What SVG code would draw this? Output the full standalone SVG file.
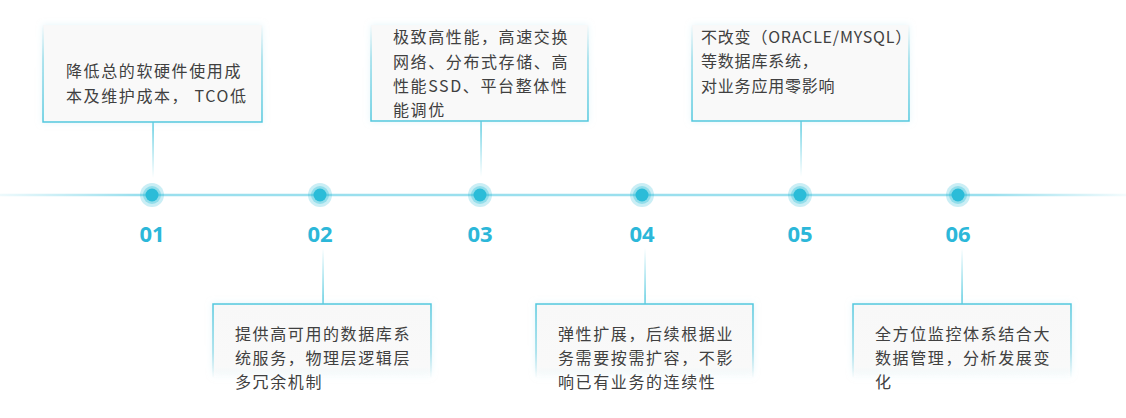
<svg xmlns="http://www.w3.org/2000/svg" width="1126" height="418" viewBox="0 0 1126 418">
  <defs>
    <linearGradient id="lineGrad" x1="0" y1="0" x2="1126" y2="0" gradientUnits="userSpaceOnUse">
      <stop offset="0" stop-color="#8fdcec" stop-opacity="0.15"/>
      <stop offset="0.12" stop-color="#8fdcec" stop-opacity="0.9"/>
      <stop offset="0.88" stop-color="#8fdcec" stop-opacity="0.9"/>
      <stop offset="1" stop-color="#8fdcec" stop-opacity="0.1"/>
    </linearGradient>
    <linearGradient id="strokeUp" x1="0" y1="0" x2="0" y2="1">
      <stop offset="0" stop-color="#4fc8de" stop-opacity="0"/>
      <stop offset="0.35" stop-color="#4fc8de" stop-opacity="0.6"/>
      <stop offset="1" stop-color="#4fc8de" stop-opacity="1"/>
    </linearGradient>
    <linearGradient id="strokeDown" x1="0" y1="0" x2="0" y2="1">
      <stop offset="0" stop-color="#4fc8de" stop-opacity="1"/>
      <stop offset="0.65" stop-color="#4fc8de" stop-opacity="0.6"/>
      <stop offset="1" stop-color="#4fc8de" stop-opacity="0"/>
    </linearGradient>
    <linearGradient id="fillDown" x1="0" y1="0" x2="0" y2="1">
      <stop offset="0" stop-color="#f8f8f8"/>
      <stop offset="0.85" stop-color="#f9f9f9"/>
      <stop offset="1" stop-color="#f9f9f9" stop-opacity="0"/>
    </linearGradient>
    <linearGradient id="connTop" x1="0" y1="0" x2="0" y2="1">
      <stop offset="0" stop-color="#4fc8de" stop-opacity="1"/>
      <stop offset="1" stop-color="#4fc8de" stop-opacity="0"/>
    </linearGradient>
    <linearGradient id="connBot" x1="0" y1="0" x2="0" y2="1">
      <stop offset="0" stop-color="#4fc8de" stop-opacity="0"/>
      <stop offset="1" stop-color="#4fc8de" stop-opacity="1"/>
    </linearGradient>
    <filter id="glow" x="-10%" y="-20%" width="120%" height="140%">
      <feDropShadow dx="0" dy="0" stdDeviation="3" flood-color="#c8ecf4" flood-opacity="0.5"/>
    </filter>
  </defs>
  <style>
    .txt { font-family: "Noto Sans CJK SC", "Noto Sans", sans-serif; font-size: 16px; fill: #404040; letter-spacing: 1.6px; }
    .num { font-family: "Noto Sans", "Open Sans", sans-serif; font-size: 22px; font-weight: bold; fill: #2cb7d9; text-anchor: middle; }
    .halo1 { fill: #2bbcd8; opacity: 0.25; }
    .halo2 { fill: #2bbcd8; opacity: 0.35; }
    .dot { fill: #2bbcd8; }
    .boxTop { fill: #f9f9f9; stroke: url(#strokeUp); stroke-width: 1.5; filter: url(#glow); }
    .boxBot { fill: url(#fillDown); stroke: url(#strokeDown); stroke-width: 1.5; filter: url(#glow); }
  </style>
  <rect width="1126" height="418" fill="#ffffff"/>

  <g id="timeline">
    <line x1="0" y1="195" x2="1126" y2="195" stroke="url(#lineGrad)" stroke-width="2.5"/>
  </g>

  <g id="connectors">
    <rect x="152.3" y="122" width="1.5" height="56" fill="url(#connTop)"/>
    <rect x="480.3" y="121" width="1.5" height="56" fill="url(#connTop)"/>
    <rect x="800.3" y="121" width="1.5" height="56" fill="url(#connTop)"/>
    <rect x="322.3" y="248" width="1.5" height="56" fill="url(#connBot)"/>
    <rect x="644.3" y="248" width="1.5" height="56" fill="url(#connBot)"/>
    <rect x="961.3" y="248" width="1.5" height="56" fill="url(#connBot)"/>
  </g>

  <g id="node-01">
    <rect class="boxTop" x="43" y="25" width="219" height="97"/>
    <text class="txt"><tspan x="66" y="77">降低总的软硬件使用成</tspan><tspan x="66" y="102">本及维护成本， TCO低</tspan></text>
    <circle class="halo1" cx="152" cy="195" r="12"/>
    <circle class="halo2" cx="152" cy="195" r="9"/>
    <circle class="dot" cx="152" cy="195" r="6.5"/>
    <text class="num" x="152" y="242">01</text>
  </g>

  <g id="node-02">
    <rect class="boxBot" x="213" y="304" width="218" height="74"/>
    <text class="txt"><tspan x="235" y="340">提供高可用的数据库系</tspan><tspan x="235" y="364">统服务，物理层逻辑层</tspan><tspan x="235" y="388">多冗余机制</tspan></text>
    <circle class="halo1" cx="320" cy="195" r="12"/>
    <circle class="halo2" cx="320" cy="195" r="9"/>
    <circle class="dot" cx="320" cy="195" r="6.5"/>
    <text class="num" x="320" y="242">02</text>
  </g>

  <g id="node-03">
    <rect class="boxTop" x="371" y="25" width="217" height="96"/>
    <text class="txt"><tspan x="393" y="43">极致高性能，高速交换</tspan><tspan x="393" y="68">网络、分布式存储、高</tspan><tspan x="393" y="92">性能SSD、平台整体性</tspan><tspan x="393" y="116">能调优</tspan></text>
    <circle class="halo1" cx="480" cy="195" r="12"/>
    <circle class="halo2" cx="480" cy="195" r="9"/>
    <circle class="dot" cx="480" cy="195" r="6.5"/>
    <text class="num" x="480" y="242">03</text>
  </g>

  <g id="node-04">
    <rect class="boxBot" x="536" y="304" width="217" height="74"/>
    <text class="txt"><tspan x="558" y="340">弹性扩展，后续根据业</tspan><tspan x="558" y="364">务需要按需扩容，不影</tspan><tspan x="558" y="388">响已有业务的连续性</tspan></text>
    <circle class="halo1" cx="642" cy="195" r="12"/>
    <circle class="halo2" cx="642" cy="195" r="9"/>
    <circle class="dot" cx="642" cy="195" r="6.5"/>
    <text class="num" x="642" y="242">04</text>
  </g>

  <g id="node-05">
    <rect class="boxTop" x="692" y="25" width="217" height="96"/>
    <text class="txt" style="letter-spacing:0.8px"><tspan x="701" y="43">不改变（ORACLE/MYSQL）</tspan><tspan x="701" y="67">等数据库系统，</tspan><tspan x="701" y="92">对业务应用零影响</tspan></text>
    <circle class="halo1" cx="800" cy="195" r="12"/>
    <circle class="halo2" cx="800" cy="195" r="9"/>
    <circle class="dot" cx="800" cy="195" r="6.5"/>
    <text class="num" x="800" y="242">05</text>
  </g>

  <g id="node-06">
    <rect class="boxBot" x="853" y="304" width="218" height="74"/>
    <text class="txt"><tspan x="875" y="340">全方位监控体系结合大</tspan><tspan x="875" y="364">数据管理，分析发展变</tspan><tspan x="875" y="388">化</tspan></text>
    <circle class="halo1" cx="958" cy="195" r="12"/>
    <circle class="halo2" cx="958" cy="195" r="9"/>
    <circle class="dot" cx="958" cy="195" r="6.5"/>
    <text class="num" x="958" y="242">06</text>
  </g>
</svg>
